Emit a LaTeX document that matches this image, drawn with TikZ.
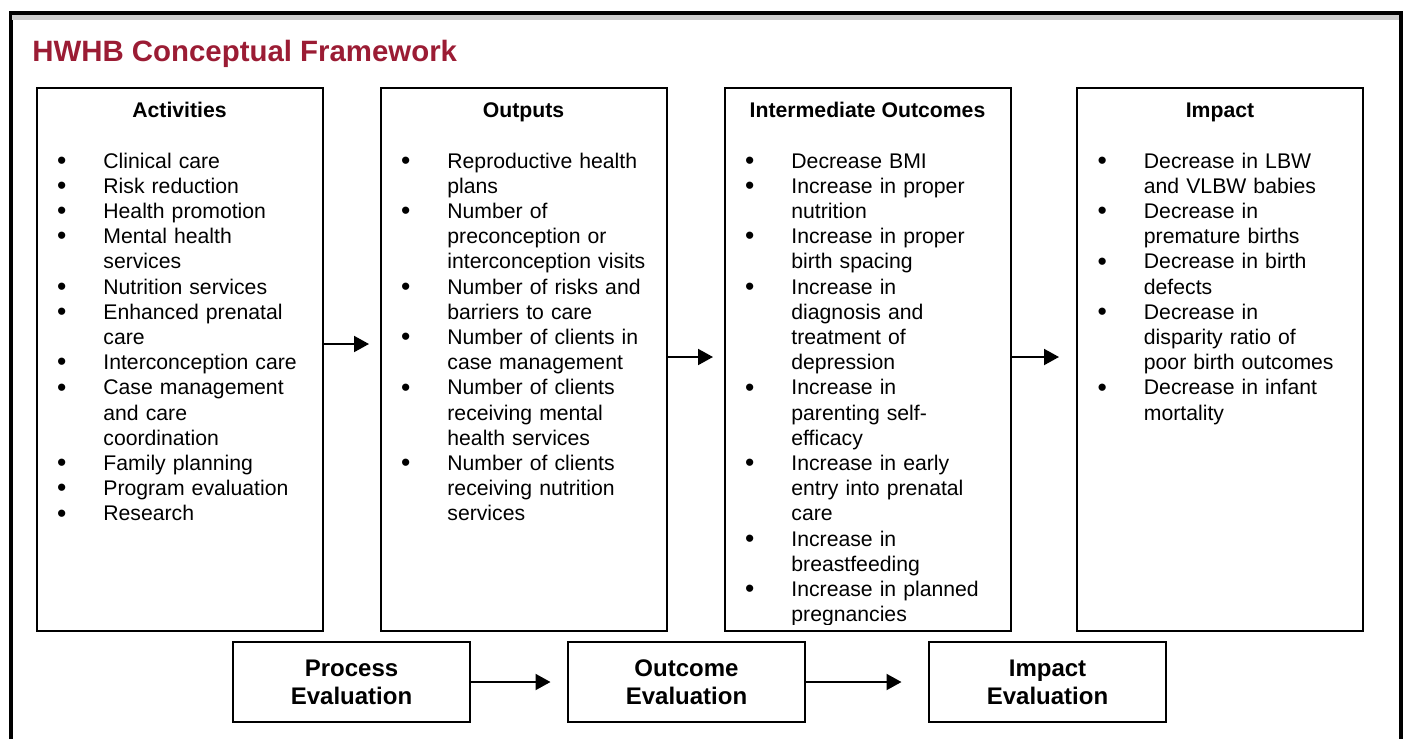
\documentclass[tikz,border=0pt]{standalone}
\usepackage{fontspec}
\setmainfont{Liberation Sans}
\usetikzlibrary{arrows.meta}
\definecolor{hwhbred}{RGB}{155,28,52}
\newcommand\itm{\makebox[0pt][r]{\raisebox{-.6pt}{\scalebox{1.25}{\textbullet}}\hspace{18.5pt}}}

\begin{document}
\begin{tikzpicture}[x=.5pt,y=-.5pt,
	box/.style={draw,line width=1pt,inner sep=0,minimum width=143pt,minimum height=271.5pt},
	evalbox/.style={draw,line width=1pt,align=center,minimum width=118.5pt,minimum height=40pt,font=\fontsize{12}{14}\selectfont\bfseries},
	head/.style={anchor=base,inner sep=0,font=\fontsize{10.6}{12.6}\selectfont\bfseries},
	list/.style={anchor=base west,inner sep=0,text width=125pt,align=left,font=\fontsize{10.6}{12.6}\selectfont},
	arr/.style={line width=1pt,-{Triangle[length=7.5pt,width=8pt]}}]
	\useasboundingbox (0,0) rectangle (1403,739);
	% frame
	\draw[line width=2pt] (10.5,739) -- (10.5,13) -- (1401,13) -- (1401,739);
	\fill[black!20] (12,15) rectangle (1399,19.5);
	\node[anchor=base west,inner sep=0,text=hwhbred,font=\fontsize{14.7}{16}\selectfont\bfseries] (title) at (32,61.5) {HWHB Conceptual Framework};
	% the four columns
	\foreach \n/\x/\t in {act/179.5/Activities,out/523.5/Outputs,mid/867.5/Intermediate Outcomes,imp/1220/Impact}{
		\node[box] (\n) at (\x,359) {};
		\node[head] (\n-h) at ([yshift=-15.25pt]\n.north) {\t};
	}
	\node[list] (act-l) at ([xshift=33.75pt,yshift=-40.75pt]act.north west) {\itm Clinical care\\ \itm Risk reduction\\ \itm Health promotion\\ \itm Mental health\\ services\\ \itm Nutrition services\\ \itm Enhanced prenatal\\ care\\ \itm Interconception care\\ \itm Case management\\ and care\\ coordination\\ \itm Family planning\\ \itm Program evaluation\\ \itm Research};
	\node[list] (out-l) at ([xshift=33.75pt,yshift=-40.75pt]out.north west) {\itm Reproductive health\\ plans\\ \itm Number of\\ preconception or\\ interconception visits\\ \itm Number of risks and\\ barriers to care\\ \itm Number of clients in\\ case management\\ \itm Number of clients\\ receiving mental\\ health services\\ \itm Number of clients\\ receiving nutrition\\ services};
	\begin{scope}
		\clip (mid.north west) rectangle ([yshift=3.75pt]mid.south east);
		\node[list] (mid-l) at ([xshift=33.75pt,yshift=-40.75pt]mid.north west) {\itm Decrease BMI\\ \itm Increase in proper\\ nutrition\\ \itm Increase in proper\\ birth spacing\\ \itm Increase in\\ diagnosis and\\ treatment of\\ depression\\ \itm Increase in\\ parenting self-\\ efficacy\\ \itm Increase in early\\ entry into prenatal\\ care\\ \itm Increase in\\ breastfeeding\\ \itm Increase in planned\\ pregnancies};
	\end{scope}
	\node[list] (imp-l) at ([xshift=33.75pt,yshift=-40.75pt]imp.north west) {\itm Decrease in LBW\\ and VLBW babies\\ \itm Decrease in\\ premature births\\ \itm Decrease in birth\\ defects\\ \itm Decrease in\\ disparity ratio of\\ poor birth outcomes\\ \itm Decrease in infant\\ mortality};
	% evaluation row
	\foreach \n/\x/\t in {proc/351.5/Process,outc/686.5/Outcome,impe/1047.5/Impact}
		\node[evalbox] (\n) at (\x,682) {\t\\Evaluation};
	\draw[arr] ([yshift=7.5pt]act.east) -- ([yshift=7.5pt,xshift=-5.25pt]out.west);
	\draw[arr] ([yshift=1pt]out.east) -- ([yshift=1pt,xshift=-5.25pt]mid.west);
	\draw[arr] ([yshift=1pt]mid.east) -- ([yshift=1pt,xshift=-8.5pt]imp.west);
	\draw[arr] (proc.east) -- ([xshift=-8.25pt]outc.west);
	\draw[arr] (outc.east) -- ([xshift=-13.25pt]impe.west);
\end{tikzpicture}
\end{document}
